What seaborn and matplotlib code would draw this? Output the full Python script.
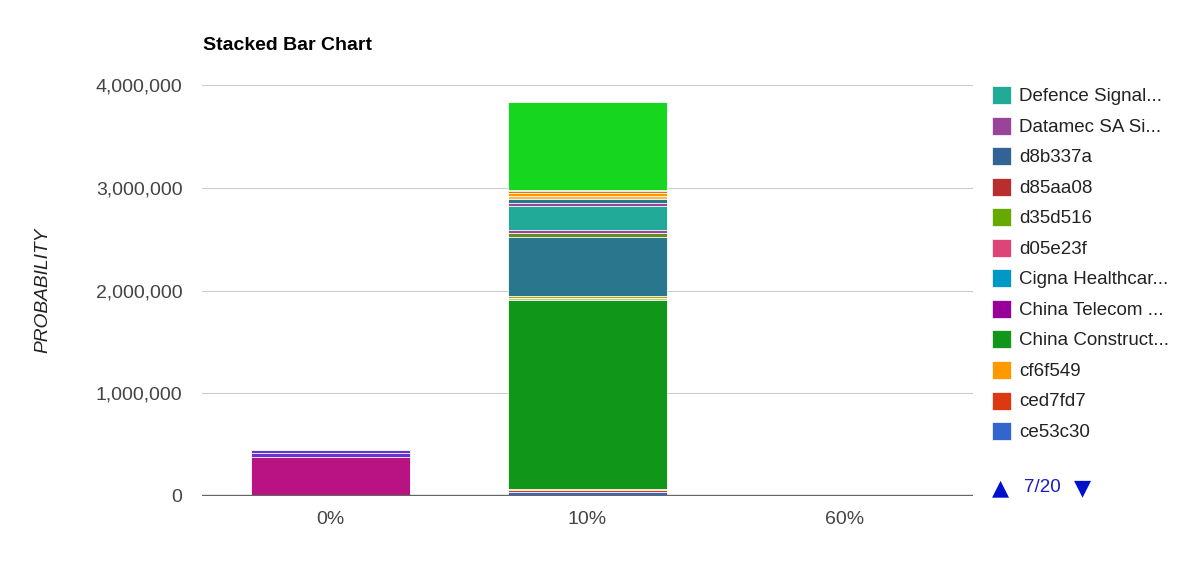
import numpy as np
import pandas as pd
import matplotlib
matplotlib.use("Agg")
import matplotlib.pyplot as plt
from matplotlib.patches import Rectangle
import seaborn as sns

# ---------------- data ----------------
categories = ["0%", "10%", "60%"]

# stacked series, bottom -> top
series_names = [
    "0% series A", "0% series B", "0% series C",
    "ce53c30", "ced7fd7", "cf6f549", "China Construct...",
    "series 8", "series 9", "series 10", "series 11",
    "Datamec SA Si...", "Defence Signal...",
    "series 14", "series 15", "series 16", "series 17", "series 18", "series 19",
    "series 20",
]
series_colors = [
    "#b91383", "#6633cc", "#6633cc",
    "#3366cc", "#dc3912", "#ff9900", "#109618",
    "#cfcf7a", "#aaaa11", "#2a778d", "#668d1c",
    "#994499", "#22aa99",
    "#994499", "#2a778d", "#ffb84d", "#ff9900", "#e67300", "#b77322",
    "#16d620",
]
values_0pct = [382000, 36000, 26000,
               0, 0, 0, 0,
               0, 0, 0, 0,
               0, 0,
               0, 0, 0, 0, 0, 0,
               0]
values_10pct = [0, 0, 0,
                35000, 20000, 12000, 1840000,
                20000, 24000, 565000, 39000,
                29000, 243000,
                26000, 42000, 28000, 23000, 22000, 10000,
                856000]
values_60pct = [0] * 20

# legend page shown (7/20)
legend_labels = ["Defence Signal...", "Datamec SA Si...", "d8b337a", "d85aa08",
                 "d35d516", "d05e23f", "Cigna Healthcar...", "China Telecom ...",
                 "China Construct...", "cf6f549", "ced7fd7", "ce53c30"]
legend_colors = ["#22aa99", "#994499", "#316395", "#b82e2e",
                 "#66aa00", "#dd4477", "#0099c6", "#990099",
                 "#109618", "#ff9900", "#dc3912", "#3366cc"]
y_ticks = [0, 1000000, 2000000, 3000000, 4000000]

# ---------------- figure ----------------
W, H = 1202, 578
sns.set_theme(style="white")
plt.rcParams["font.family"] = ["Liberation Sans", "DejaVu Sans"]

fig = plt.figure(figsize=(W / 100, H / 100), dpi=100)
ax = fig.add_axes([202 / W, (H - 496) / H, (973 - 202) / W, (496 - 85) / H])

vals = np.array([values_0pct, values_10pct, values_60pct]).T  # series x categories
cum = np.cumsum(vals, axis=0)

# draw tallest cumulative first, then overlay shorter ones
for i in range(len(series_names) - 1, -1, -1):
    df = pd.DataFrame({"cat": categories, "val": cum[i]})
    sns.barplot(data=df, x="cat", y="val", order=categories, color=series_colors[i],
                saturation=1, width=0.62, edgecolor="white", linewidth=0.6,
                errorbar=None, ax=ax, zorder=3)

ax.set_xlim(-0.5, 2.5)
ax.set_ylim(0, 4000000)
ax.set_yticks(y_ticks)
ax.set_yticklabels([f"{v:,}" for v in y_ticks])
ax.grid(axis="y", color="#cccccc", linewidth=0.8, zorder=0)
ax.grid(axis="x", visible=False)
ax.axhline(0, color="#666666", linewidth=1.7, zorder=6)
for s in ax.spines.values():
    s.set_visible(False)
ax.set_xlabel("")
ax.set_ylabel("")
ax.tick_params(axis="y", length=0, pad=14, labelsize=14, labelcolor="#444444")
ax.tick_params(axis="x", length=0, pad=11, labelsize=14, labelcolor="#444444")

# title and axis title
fig.text(203 / W, 1 - 45 / H, "Stacked Bar Chart", fontsize=14, fontweight="bold",
         color="#000000", ha="left", va="center")
fig.text(43 / W, 1 - 290 / H, "PROBABILITY", fontsize=13.8, fontstyle="italic",
         color="#222222", rotation=90, ha="center", va="center")

# legend (page 7 of 20)
for k, (lab, col) in enumerate(zip(legend_labels, legend_colors)):
    yc = 95 + k * 30.55
    fig.patches.append(Rectangle((992 / W, 1 - (yc + 9) / H), 19 / W, 18 / H,
                                 transform=fig.transFigure, facecolor=col,
                                 edgecolor="white", linewidth=0.5))
    fig.text(1019 / W, 1 - (yc + 1.5) / H, lab, fontsize=13.5, color="#222222",
             ha="left", va="center")

fig.text(1001 / W, 1 - 488 / H, "▲", fontsize=16, color="#0011cc",
         ha="center", va="center", family=["DejaVu Sans"])
fig.text(1042 / W, 1 - 488 / H, "7/20", fontsize=13.5, color="#1a1acc",
         ha="center", va="center")
fig.text(1083 / W, 1 - 488 / H, "▼", fontsize=16, color="#0011cc",
         ha="center", va="center", family=["DejaVu Sans"])

fig.savefig("out.png", dpi=100, facecolor="white")
